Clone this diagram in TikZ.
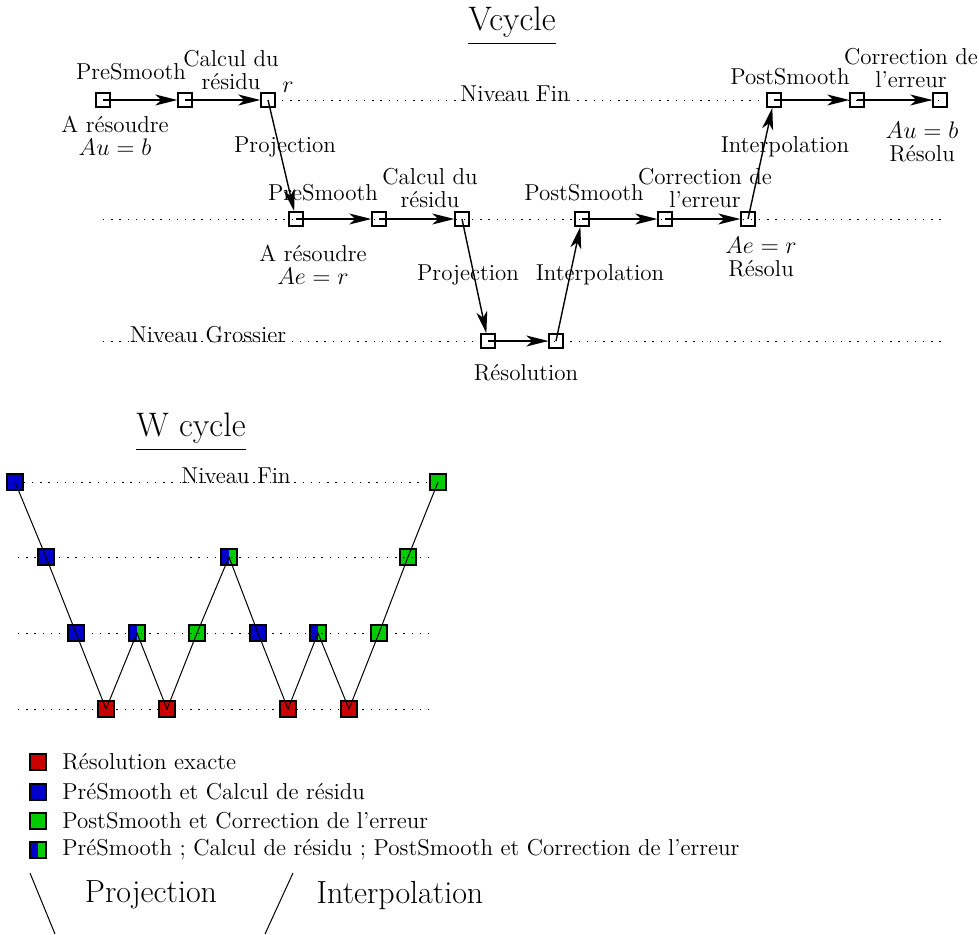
\documentclass[tikz,border=0pt]{standalone}
\usetikzlibrary{arrows.meta}
\definecolor{wred}{RGB}{205,0,0}
\definecolor{wblue}{RGB}{0,0,205}
\definecolor{wgreen}{RGB}{0,205,0}
\begin{document}
\begin{tikzpicture}[x=0.5pt,y=-0.5pt,
    box/.style={draw,line width=0.7pt,minimum size=7pt,inner sep=0pt},
    wbox/.style={draw,line width=0.7pt,minimum size=8pt,inner sep=0pt},
    redbox/.style={wbox,fill=wred},
    bluebox/.style={wbox,fill=wblue},
    greenbox/.style={wbox,fill=wgreen},
    splitbox/.style={wbox,path picture={
        \fill[wblue] (path picture bounding box.south west) rectangle (path picture bounding box.north);
        \fill[wgreen] (path picture bounding box.south) rectangle (path picture bounding box.north east);}},
    flow/.style={-{Stealth[length=11pt,width=5.5pt,inset=3pt]},line width=0.7pt},
    level/.style={dash pattern=on 0.7pt off 3.4pt,line width=0.5pt},
    lbl/.style={font=\fontsize{11.5}{11.5}\selectfont,align=center,inner sep=0pt},
    big/.style={font=\fontsize{16}{18}\selectfont,inner sep=0pt},
    title/.style={font=\fontsize{17}{20}\selectfont,inner sep=0pt}]
  \useasboundingbox (0,0) rectangle (979,934);

  % Vcycle
  \node[title] (vtitle) at (512,22) {Vcycle};
  \draw[line width=0.6pt] ([yshift=-3pt]vtitle.south west) -- ([yshift=-3pt]vtitle.south east);

  \coordinate (finL) at (282,100);
  \coordinate (finR) at (945,100);
  \coordinate (midL) at (103,219);
  \coordinate (midR) at (945,219);
  \coordinate (grosL) at (103,341);
  \coordinate (grosR) at (945,341);
  \draw[level] (finL) -- (finR);
  \draw[level] (midL) -- (midR);
  \draw[level] (grosL) -- (grosR);

  \node[box] (a1) at (103,100) {};
  \node[box] (a2) at (185,100) {};
  \node[box] (a3) at (268,100) {};
  \node[box] (a4) at (774,100) {};
  \node[box] (a5) at (857,100) {};
  \node[box] (a6) at (940,100) {};
  \node[box] (b1) at (296,219) {};
  \node[box] (b2) at (379,219) {};
  \node[box] (b3) at (462,219) {};
  \node[box] (b4) at (582,219) {};
  \node[box] (b5) at (665,219) {};
  \node[box] (b6) at (748,219) {};
  \node[box] (c1) at (488,341) {};
  \node[box] (c2) at (556,341) {};

  \draw[flow] (a1.center) -- (a2);
  \draw[flow] (a2.center) -- (a3);
  \draw[flow] (a3.center) -- (b1);
  \draw[flow] (b1.center) -- (b2);
  \draw[flow] (b2.center) -- (b3);
  \draw[flow] (b3.center) -- (c1);
  \draw[flow] (c1.center) -- (c2);
  \draw[flow] (c2.center) -- (b4);
  \draw[flow] (b4.center) -- (b5);
  \draw[flow] (b5.center) -- (b6);
  \draw[flow] (b6.center) -- (a4);
  \draw[flow] (a4.center) -- (a5);
  \draw[flow] (a5.center) -- (a6);

  % labels, niveau fin
  \node[lbl] (ps1) at (131,72) {PreSmooth};
  \node[lbl] (cr1) at (231,70) {Calcul du\\résidu};
  \node[lbl] (rr) at (288,87) {$r$};
  \node[lbl] (ar1) at (115,136) {A résoudre\\$Au=b$};
  \node[lbl] (pj1) at (285,147) {Projection};
  \node[lbl] (fin) at (515,94) {Niveau Fin};
  \node[lbl] (ps4) at (790,77) {PostSmooth};
  \node[lbl] (ce4) at (911,68) {Correction de\\l'erreur};
  \node[lbl] (ip4) at (785,147) {Interpolation};
  \node[lbl] (rs4) at (922,142) {$Au=b$\\Résolu};
  % labels, niveaux inferieurs
  \node[lbl] (ps2) at (323,193) {PreSmooth};
  \node[lbl] (cr2) at (430,188) {Calcul du\\résidu};
  \node[lbl] (ar2) at (313,265) {A résoudre\\$Ae=r$};
  \node[lbl] (pj2) at (468,275) {Projection};
  \node[lbl] (ip2) at (600,275) {Interpolation};
  \node[lbl] (ps3) at (584,193) {PostSmooth};
  \node[lbl] (ce3) at (705,188) {Correction de\\l'erreur};
  \node[lbl] (rs3) at (761,257) {$Ae=r$\\Résolu};
  \node[lbl] (gros) at (208,335) {Niveau Grossier};
  \node[lbl] (res) at (526,373) {Résolution};

  % W cycle
  \node[title] (wtitle) at (191,428) {W cycle};
  \draw[line width=0.6pt] ([yshift=-3pt]wtitle.south west) -- ([yshift=-3pt]wtitle.south east);

  \foreach \n/\x/\y/\s in {w0/15/482/bluebox, w1/46/557/bluebox, w2/76/633/bluebox,
      w3/106/709/redbox, w4/137/633/splitbox, w5/167/709/redbox, w6/197/633/greenbox,
      w7/229/557/splitbox, w8/258/633/bluebox, w9/288/709/redbox, w10/318/633/splitbox,
      w11/349/709/redbox, w12/379/633/greenbox, w13/408/557/greenbox, w14/438/482/greenbox}
    \node[\s] (\n) at (\x,\y) {};

  \draw[level] (w0) -- (w14);
  \foreach \y in {557,633,709}
    \draw[level] (18,\y) -- (435,\y);
  \node[lbl] (fin2) at (236,476) {Niveau Fin};

  \draw[line width=0.5pt] (w0.center) -- (w1.center) -- (w2.center) -- (w3.center)
    -- (w4.center) -- (w5.center) -- (w6.center) -- (w7.center) -- (w8.center)
    -- (w9.center) -- (w10.center) -- (w11.center) -- (w12.center) -- (w13.center)
    -- (w14.center);

  % legende
  \node[redbox] (k1) at (38,762) {};
  \node[bluebox] (k2) at (38,792) {};
  \node[greenbox] (k3) at (38,821) {};
  \node[splitbox] (k4) at (38,850) {};
  \node[lbl,anchor=west] (t1) at (62,762) {Résolution exacte};
  \node[lbl,anchor=west] (t2) at (62,792) {PréSmooth et Calcul de résidu};
  \node[lbl,anchor=west] (t3) at (62,821) {PostSmooth et Correction de l'erreur};
  \node[lbl,anchor=west] (t4) at (62,850) {PréSmooth ; Calcul de résidu ; PostSmooth et Correction de l'erreur};

  \coordinate (pjT) at (30,873);
  \coordinate (pjB) at (55,934);
  \coordinate (ipT) at (293,873);
  \coordinate (ipB) at (265,934);
  \draw[line width=0.5pt] (pjT) -- (pjB);
  \draw[line width=0.5pt] (ipT) -- (ipB);
  \node[big] (pj3) at (151,895) {Projection};
  \node[big] (ip3) at (400,895) {Interpolation};
\end{tikzpicture}
\end{document}
